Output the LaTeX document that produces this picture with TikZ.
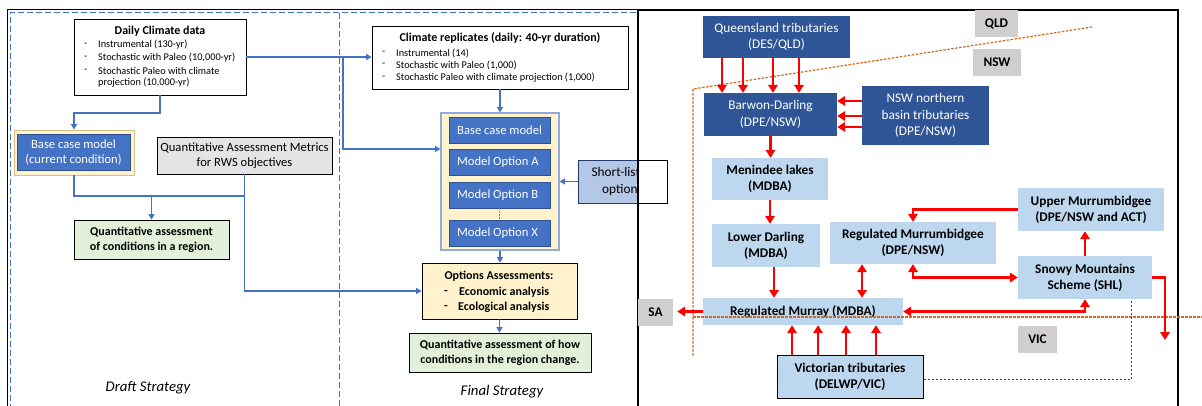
\documentclass[tikz,border=0pt]{standalone}
\usepackage{fontspec}
\setmainfont{Carlito}
\usetikzlibrary{arrows.meta}
\definecolor{cblue}{HTML}{4472C4}
\definecolor{cbluedark}{HTML}{2F528F}
\definecolor{navy}{HTML}{2F5597}
\definecolor{lblue}{HTML}{BDD7EE}
\definecolor{slblue}{HTML}{B4C7E7}
\definecolor{cyellow}{HTML}{FFF2CC}
\definecolor{ctan}{HTML}{D6C08A}
\definecolor{cframe}{HTML}{8FAADC}
\definecolor{cgreen}{HTML}{E2F0D9}
\definecolor{cgray}{HTML}{E4E4E4}
\definecolor{sgray}{HTML}{D0CECE}
\definecolor{corange}{HTML}{D2691E}
\newcommand{\fsz}[2]{\fontsize{#1}{#2}\selectfont}
\tikzset{
  box/.style={rectangle, inner sep=0pt, align=center},
  plainbox/.style={box, draw=black, line width=0.8pt, fill=white},
  bluebox/.style={box, fill=cblue, draw=cbluedark, line width=0.6pt, text=white, font=\fsz{12.6}{15}},
  modelbox/.style={bluebox, minimum width=101pt, minimum height=26pt},
  modeltxt/.style={anchor=west, inner sep=0pt, text=white, font=\fsz{12.6}{14}},
  navybox/.style={box, fill=navy, text=white, font=\fsz{13.3}{16.5}},
  lightbox/.style={box, fill=lblue, font=\fsz{13.3}{16}\bfseries},
  statebox/.style={box, fill=sgray, font=\fsz{13.3}{14}\bfseries},
  greenbox/.style={box, draw=black, line width=0.8pt, fill=cgreen, font=\fsz{12}{15}\bfseries},
  itemtxt/.style={anchor=west, inner sep=0pt, font=\fsz{10.3}{11}},
  titletxt/.style={inner sep=0pt, font=\fsz{12}{13}\bfseries},
  opttxt/.style={anchor=west, inner sep=0pt, font=\fsz{12}{13}\bfseries},
  bline/.style={draw=cblue, line width=1.3pt},
  barr/.style={bline, -{Triangle[length=5.5pt,width=6pt]}},
  rarr/.style={draw=red, line width=2.8pt, -{Triangle[length=8pt,width=9.5pt]}},
  rboth/.style={rarr, {Triangle[length=8pt,width=9.5pt]}-{Triangle[length=8pt,width=9.5pt]}},
  border/.style={corange, line width=1.2pt, dash pattern=on 2.5pt off 1.5pt},
}
\begin{document}
\begin{tikzpicture}[x=1pt,y=-1pt]
\useasboundingbox (0,0) rectangle (1202,406);
\fill[white] (0,0) rectangle (1202,406);
\begin{scope}
\clip (0,0) rectangle (1202,406);
% ---------- left panel frames ----------
\draw[black, line width=1pt] (7.5,410) -- (7.5,10) -- (638,10);
\draw[cblue, line width=1pt, dash pattern=on 6pt off 3pt] (10,410) -- (10,13) -- (636,13);
\draw[cblue, line width=1pt, dash pattern=on 6pt off 3pt] (339,13) -- (339,410);

% ---------- Draft strategy ----------
\node[plainbox, minimum width=172pt, minimum height=76pt] (daily) at (160,57) {};
\node[titletxt] (dailyt) at (160,31) {Daily Climate data};
\node[itemtxt] (dd1) at (84,45) {-};
\node[itemtxt] (dd2) at (84,58) {-};
\node[itemtxt] (dd3) at (84,71) {-};
\node[itemtxt] (di1) at (98,45) {Instrumental (130-yr)};
\node[itemtxt] (di2) at (98,58) {Stochastic with Paleo (10,000-yr)};
\node[itemtxt] (di3) at (98,71) {Stochastic Paleo with climate};
\node[itemtxt] (di4) at (98,83) {projection (10,000-yr)};

\node[box, fill=cyellow, draw=ctan, line width=0.8pt, minimum width=120pt, minimum height=45pt] (baseout) at (74,152.5) {};
\node[bluebox, minimum width=113pt, minimum height=36pt] (base) at (73.5,152.5) {Base case model\\(current condition)};
\node[box, fill=cgray, draw=black, line width=0.8pt, minimum width=175pt, minimum height=37pt, font=\fsz{12.6}{15}] (metrics) at (244.5,155.5) {Quantitative Assessment Metrics\\for RWS objectives};
\node[greenbox, minimum width=155pt, minimum height=39pt] (qa1) at (151.5,239.5) {Quantitative assessment\\of conditions in a region.};
\node[inner sep=0pt, font=\fsz{14.8}{16}\itshape] (draftlbl) at (148,388) {Draft Strategy};

% ---------- Final strategy ----------
\node[plainbox, minimum width=256pt, minimum height=63pt] (climate) at (500,57.5) {};
\node[titletxt] (climt) at (500,38) {Climate replicates (daily: 40-yr duration)};
\node[itemtxt] (cd1) at (382,53) {-};
\node[itemtxt] (cd2) at (382,65) {-};
\node[itemtxt] (cd3) at (382,78) {-};
\node[itemtxt] (ci1) at (396,53) {Instrumental (14)};
\node[itemtxt] (ci2) at (396,65) {Stochastic with Paleo (1,000)};
\node[itemtxt] (ci3) at (396,78) {Stochastic Paleo with climate projection (1,000)};

\node[box, fill=cyellow, draw=cframe, line width=1.2pt, minimum width=118pt, minimum height=137pt] (container) at (500,181.5) {};
\node[modelbox] (mbase) at (499.5,130) {};
\node[modelbox] (mA) at (499.5,162) {};
\node[modelbox] (mB) at (499.5,195) {};
\node[modelbox] (mX) at (499.5,233) {};
\node[modeltxt] (tbase) at (457,130) {Base case model};
\node[modeltxt] (tA) at (457,162) {Model Option A};
\node[modeltxt] (tB) at (457,195) {Model Option B};
\node[modeltxt] (tX) at (457,233) {Model Option X};
\draw[gray, line width=0.6pt, dash pattern=on 1.5pt off 1.5pt] (mB.south) -- (mX.north);

\node[box, fill=cyellow, draw=black, line width=0.8pt, minimum width=155pt, minimum height=56pt] (options) at (499.5,291) {};
\node[titletxt] (optt) at (499,276) {Options Assessments:};
\node[opttxt] (od1) at (444,292) {-};
\node[opttxt] (od2) at (444,307) {-};
\node[opttxt] (oi1) at (459,292) {Economic analysis};
\node[opttxt] (oi2) at (458,307) {Ecological analysis};
\node[greenbox, minimum width=182pt, minimum height=39pt] (qa2) at (500,352.5) {Quantitative assessment of how\\conditions in the region change.};
\node[inner sep=0pt, font=\fsz{14.8}{16}\itshape] (finallbl) at (502,392) {Final Strategy};

% blue connectors
\draw[barr] (daily.south) |- (baseout.north |- 0,113) -- (baseout.north);
\draw[bline] (baseout.south) |- (metrics.south |- 0,196);
\draw[barr] (qa1.north |- 0,196) -- (qa1.north);
\draw[barr] (metrics.south) |- (options.west);
\draw[barr] (daily.east) -- (daily.east -| climate.west);
\draw[barr] (343,0 |- daily.east) |- (container.west |- 0,149);
\draw[barr] (climate.south) -- (climate.south |- container.north);
\draw[barr] (container.south) -- (container.south |- options.north);
\draw[barr] (options.south) -- (options.south |- qa2.north);

% short-listed options (partly hidden by right panel)
\node[box, fill=slblue, draw=cbluedark!70!black, line width=0.8pt, minimum width=89pt, minimum height=43pt, font=\fsz{13.3}{17}] (short) at (622.5,181.5) {Short-listed\\options};
\draw[barr] (short.west) -- (short.west -| container.east);

% ---------- right panel ----------
\fill[white] (638,10) rectangle (1178,410);
\fill[white] (638,160.6) rectangle (666.4,202.4);
\draw[black, line width=0.8pt] (638,160) -- (667,160) -- (667,203) -- (638,203);
\draw[black, line width=1.3pt] (638,410) -- (638,10);
\draw[black, line width=2pt] (637,10) -- (1178,10) -- (1178,410);

% state borders (QLD/NSW and SA)
\draw[border] (1092,27) -- (693,89) -- (693,357);

\node[navybox, minimum width=147pt, minimum height=42pt] (qld) at (776.5,37) {Queensland tributaries\\(DES/QLD)};
\node[navybox, minimum width=133pt, minimum height=43pt] (barwon) at (770.5,114.5) {Barwon-Darling\\(DPE/NSW)};
\node[navybox, minimum width=127pt, minimum height=59pt] (nswn) at (925.5,115.5) {NSW northern\\basin tributaries\\(DPE/NSW)};
\node[lightbox, minimum width=116pt, minimum height=42pt] (menindee) at (770,179) {Menindee lakes\\(MDBA)};
\node[lightbox, minimum width=108pt, minimum height=43pt] (lower) at (766,245.5) {Lower Darling\\(MDBA)};
\node[lightbox, minimum width=166pt, minimum height=42pt] (murrumb) at (913,243) {Regulated Murrumbidgee\\(DPE/NSW)};
\node[lightbox, minimum width=146pt, minimum height=43pt] (upper) at (1091,209.5) {Upper Murrumbidgee\\(DPE/NSW and ACT)};
\node[lightbox, minimum width=134pt, minimum height=43pt] (snowy) at (1085,277.5) {Snowy Mountains\\Scheme (SHL)};
\node[lightbox, minimum width=200pt, minimum height=27pt] (murray) at (803,311.5) {Regulated Murray (MDBA)};
\node[statebox, minimum width=35pt, minimum height=27pt] (sa) at (655.5,312.5) {SA};
\node[lightbox, draw=black, line width=1pt, minimum width=146pt, minimum height=43pt] (vic) at (850,376.5) {Victorian tributaries\\(DELWP/VIC)};
\node[statebox, minimum width=43pt, minimum height=27pt] (qldl) at (996.5,23.5) {QLD};
\node[statebox, minimum width=48pt, minimum height=27pt] (nswl) at (997,62.5) {NSW};
\node[statebox, minimum width=39pt, minimum height=27pt] (vicl) at (1037.5,339.5) {VIC};

% NSW/VIC border drawn over the boxes
\draw[border] (693,317) -- (1202,317);

% dotted link Victorian -> Snowy
\draw[black!75, line width=1pt, dash pattern=on 2pt off 2pt] (vic.east |- 0,379) -| (snowy.south -| 1131,0);

% red arrows
\foreach \xx in {722,743,773,799} \draw[rarr] (\xx,0 |- qld.south) -- (\xx,0 |- barwon.north);
\foreach \yy in {101,116,127} \draw[rarr] (nswn.west |- 0,\yy) -- (barwon.east |- 0,\yy);
\draw[rarr] (barwon.south) -- (barwon.south |- menindee.north);
\draw[rarr] (menindee.south) -- (menindee.south |- lower.north);
\draw[rarr] (774,0 |- lower.south) -- (774,0 |- murray.north);
\draw[rarr] (murray.west) -- ([xshift=4pt]murray.west -| sa.east);
\draw[rboth] (862,0 |- murrumb.south) -- (862,0 |- murray.north);
\draw[rarr] (upper.west) -| (913,0 |- murrumb.north);
\draw[rboth] (913,0 |- murrumb.south) |- (snowy.west);
\draw[rarr] (snowy.north) -- (snowy.north |- upper.south);
\draw[rboth] (snowy.south) |- (murray.east);
\coordinate (snowyout) at (1165,340);
\draw[rarr] (snowy.east) -| (snowyout);
\foreach \xx in {792,818,846,876} \draw[rarr] (\xx,0 |- vic.north) -- (\xx,0 |- murray.south);
\end{scope}
\end{tikzpicture}
\end{document}
